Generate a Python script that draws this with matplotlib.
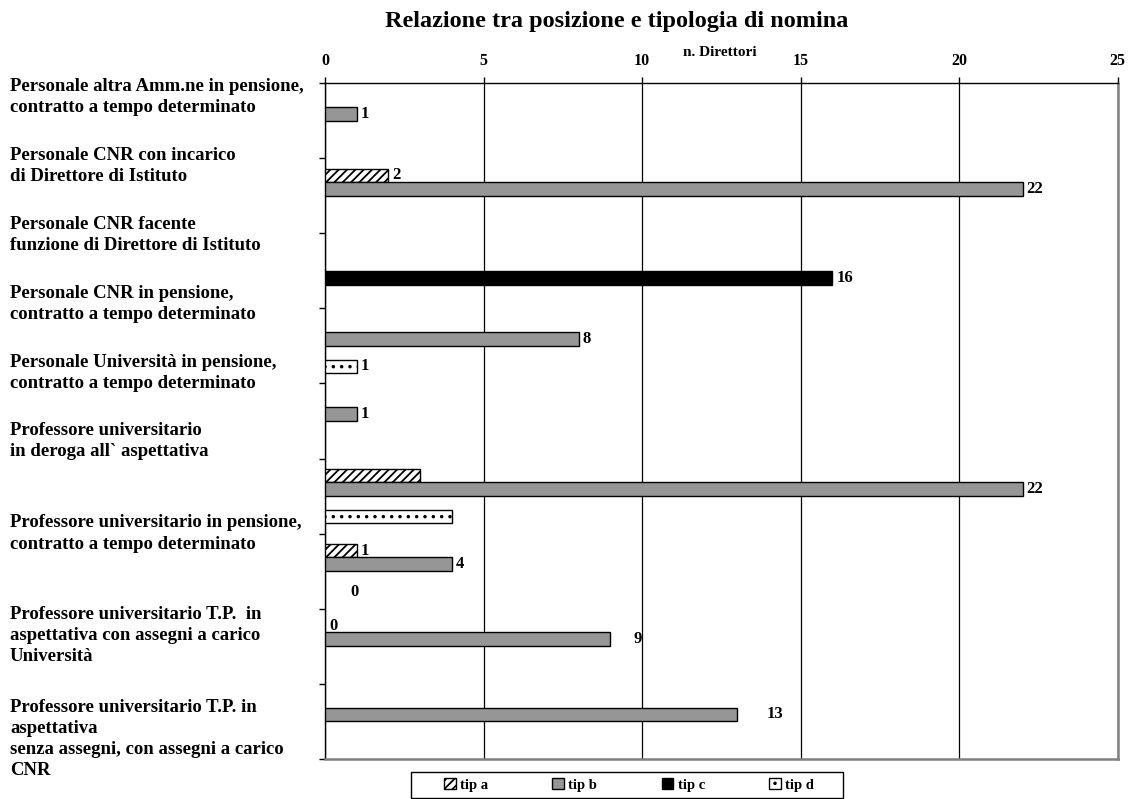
import numpy as np
import matplotlib
matplotlib.use("Agg")
import matplotlib.pyplot as plt
from matplotlib import transforms
from matplotlib.patches import Patch, Rectangle

plt.rcParams["font.family"] = ["Liberation Serif", "DejaVu Serif"]
plt.rcParams["font.weight"] = "bold"
plt.rcParams["hatch.linewidth"] = 1.3

# ---- data -------------------------------------------------------------
categories = [
    "Personale altra Amm.ne in pensione,\ncontratto a tempo determinato",
    "Personale CNR con incarico\ndi Direttore di Istituto",
    "Personale CNR facente\nfunzione di Direttore di Istituto",
    "Personale CNR in pensione,\ncontratto a tempo determinato",
    "Personale Università in pensione,\ncontratto a tempo determinato",
    "Professore universitario\nin deroga all` aspettativa",
    "Professore universitario in pensione,\ncontratto a tempo determinato",
    "Professore universitario T.P.  in\naspettativa con assegni a carico\nUniversità",
    "Professore universitario T.P. in\naspettativa\nsenza assegni, con assegni a carico\nCNR",
]
series_names = ["tip a", "tip b", "tip c", "tip d"]
tip_a = [0, 2, 0, 0, 0, 3, 1, 0, 0]
tip_b = [1, 22, 0, 8, 1, 22, 4, 9, 13]
tip_c = [0, 0, 16, 0, 0, 0, 0, 0, 0]
tip_d = [0, 0, 0, 1, 0, 4, 0, 0, 0]
# which values carry a data label
shown_a = [0, 1, 0, 0, 0, 0, 1, 1, 0]
shown_b = [1, 1, 0, 1, 1, 1, 1, 1, 1]
shown_c = [0, 0, 1, 0, 0, 0, 0, 0, 0]
shown_d = [0, 0, 0, 1, 0, 0, 1, 0, 0]
x_ticks = [0, 5, 10, 15, 20, 25]

# ---- styles -------------------------------------------------------------
styles = [
    dict(facecolor="white", hatch="////"),
    dict(facecolor="#969696"),
    dict(facecolor="black"),
    dict(facecolor="white", hatch=".."),
]
# label positions (vertical, in category units) for the wrapped y labels
label_y = [-0.32, 0.60, 1.52, 2.44, 3.36, 4.27, 5.50, 6.86, 8.24]
# extra horizontal offsets (points) for a few data labels
label_shift = {(3, 6): 15, (1, 7): 14, (1, 8): 18}

W, H = 1132, 799
fig = plt.figure(figsize=(W / 100, H / 100), dpi=100)
ax = fig.add_axes([325 / W, 1 - 758.7 / H, (1117.7 - 325) / W, (758.7 - 83.3) / H])

values = [tip_a, tip_b, tip_c, tip_d]
shown = [shown_a, shown_b, shown_c, shown_d]
n = len(series_names)
bar_h = 1 / 5.5
y = np.arange(len(categories))

for k, (vals, st) in enumerate(zip(values, styles)):
    pos = y + (k - (n - 1) / 2) * bar_h
    for i, v in enumerate(vals):
        if v > 0:
            ax.barh(pos[i], v, height=bar_h, edgecolor="black", linewidth=1.0,
                    zorder=3, **st)
        if shown[k][i]:
            dx = 3 + label_shift.get((k, i), 0)
            ax.annotate(f"{v}", xy=(v, pos[i]), xytext=(dx, 0),
                        textcoords="offset points", ha="left", va="center",
                        fontsize=12, fontweight="bold", zorder=4)

ax.set_xlim(0, 25)
ax.set_ylim(len(categories) - 0.5, -0.5)
ax.xaxis.tick_top()
ax.set_xticks(x_ticks)
ax.set_xticklabels([str(t) for t in x_ticks], fontsize=11.5, fontweight="bold")
ax.tick_params(axis="x", direction="out", length=4, width=1, pad=6)
ax.set_yticks([])
ax.set_yticks(np.arange(-0.5, len(categories)), minor=True)
ax.tick_params(axis="y", which="minor", direction="out", length=4, width=1,
               labelleft=False)
ax.grid(axis="x", color="black", linewidth=0.9)
ax.set_axisbelow(True)
for side in ("left", "top"):
    ax.spines[side].set_color("black")
    ax.spines[side].set_linewidth(1.0)
for side in ("right", "bottom"):
    ax.spines[side].set_color("#808080")
    ax.spines[side].set_linewidth(1.8)

# wrapped category labels on the left
blend = transforms.blended_transform_factory(fig.transFigure, ax.transData)
for text, ly in zip(categories, label_y):
    ax.text(10 / W, ly, text, transform=blend, ha="left", va="center",
            fontsize=13.5, fontweight="bold", linespacing=1.32, clip_on=False)

fig.text(617 / W, 1 - 21 / H, "Relazione tra posizione e tipologia di nomina",
         ha="center", va="center", fontsize=17.5, fontweight="bold")
fig.text(720 / W, 1 - 52 / H, "n. Direttori", ha="center", va="center",
         fontsize=11, fontweight="bold")

# legend: entries in a row inside a plain rectangular box
fig.patches.append(Rectangle((411 / W, 1 - 798 / H), (843 - 411) / W, 26 / H,
                             transform=fig.transFigure, facecolor="white",
                             edgecolor="black", linewidth=1.0, zorder=1))
handles = [Patch(edgecolor="black", linewidth=1.0, **st) for st in styles]
leg = fig.legend(handles, series_names, loc="center",
                 bbox_to_anchor=(629 / W, 1 - 785 / H), ncol=4, frameon=False,
                 handlelength=0.8, handleheight=0.8, handletextpad=0.3,
                 columnspacing=4.4, borderpad=0.2, fontsize=10.5)
leg.set_zorder(2)

fig.savefig("out.png", dpi=100)
